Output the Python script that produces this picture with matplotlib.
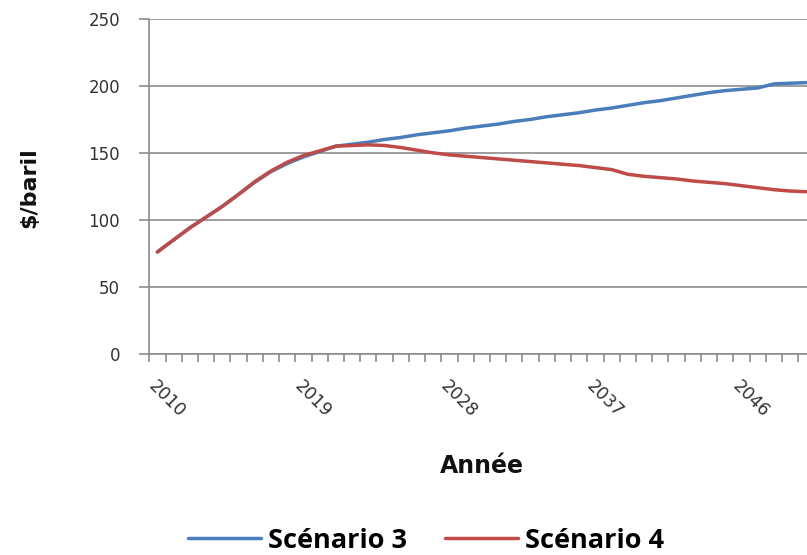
import numpy as np
import matplotlib.pyplot as plt

plt.rcParams['font.family'] = ['DejaVu Sans']

# Oil price projections, $/barrel, 2010-2050
years = list(range(2010, 2051))
scenario_3 = [76, 85, 94, 102, 110, 119, 128, 136, 142, 147,
              151, 155, 156.5, 158, 160, 161.5, 163.5, 165, 166.5, 168.5,
              170, 171.5, 173.5, 175, 177, 178.5, 180, 182, 183.5, 185.5,
              187.5, 189, 191, 193, 195, 196.5, 197.5, 198.5, 201.5, 202, 202.5]
scenario_4 = [76, 85, 94, 102, 110, 119, 128.5, 136.5, 143, 148,
              151.5, 155, 155.5, 156, 155.5, 154, 152, 150, 148.5, 147.5,
              146.5, 145.5, 144.5, 143.5, 142.5, 141.5, 140.5, 139, 137.5, 134,
              132.5, 131.5, 130.5, 129, 128, 127, 125.5, 124, 122.5, 121.5, 121]
series_names = ["Scénario 3", "Scénario 4"]
colors = ["#4a7ebb", "#be4b48"]

grid_col = "#8c8c8c"
text_col = "#333333"

fig = plt.figure(figsize=(8.07, 5.55), dpi=100)
ax = fig.add_axes([0.185, 0.3627, 0.8243, 0.6031])

x = np.arange(len(years))
ax.plot(x, scenario_3, color=colors[0], lw=2.5, label=series_names[0],
        solid_capstyle="round", zorder=3)
ax.plot(x, scenario_4, color=colors[1], lw=2.5, label=series_names[1],
        solid_capstyle="round", zorder=4)

ax.set_xlim(-0.5, len(years) - 0.5)
ax.set_ylim(0, 250)

# y axis: gridlines every 50
ax.set_yticks(range(0, 251, 50))
ax.yaxis.grid(True, color=grid_col, lw=1.2)
ax.set_axisbelow(True)
ax.tick_params(axis="y", direction="out", length=7, width=1.2, color=grid_col,
               pad=14, labelsize=12, labelcolor=text_col)

# x axis: tick marks between categories, label every 9 years
ax.set_xticks(x[::9])
ax.set_xticklabels([str(y) for y in years[::9]], rotation=-45,
                   ha="left", va="top", rotation_mode="anchor")
ax.set_xticks(np.arange(-0.5, len(years), 1), minor=True)
ax.tick_params(axis="x", which="major", length=0, pad=17, labelsize=12.5,
               labelcolor=text_col)
ax.tick_params(axis="x", which="minor", direction="out", length=6, width=1.2,
               color=grid_col)

for side in ["top", "right"]:
    ax.spines[side].set_visible(False)
for side in ["left", "bottom"]:
    ax.spines[side].set_color(grid_col)
    ax.spines[side].set_linewidth(1.2)

fig.text(0.036, 0.662, r"\$/baril", rotation=90, ha="center", va="center",
         fontsize=16, fontweight="bold", color="#111111")
fig.text(0.597, 0.160, "Année", ha="center", va="center",
         fontsize=17, fontweight="bold", color="#111111")

fig.legend(loc="center", bbox_to_anchor=(0.528, 0.026), ncol=2, frameon=False,
           handlelength=2.7, handletextpad=0.25, columnspacing=1.4,
           prop={"family": "Open Sans", "weight": "bold", "size": 19.5})

fig.savefig("out.png", dpi=100)
